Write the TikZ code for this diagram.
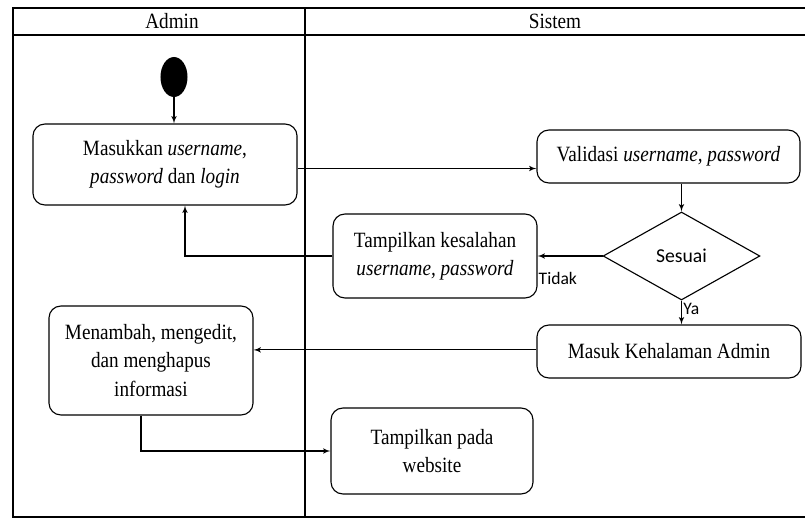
\documentclass[tikz,border=0pt]{standalone}
\usepackage{fontspec}
\setmainfont[FakeStretch=0.88]{Liberation Serif}
\newfontfamily\calibri{Carlito}
\usepackage{tikz}
\usetikzlibrary{shapes,shapes.geometric,arrows}
\tikzstyle{decision} = [diamond, draw, thick, inner sep=0pt,
minimum width=3.92cm, minimum height=2.2cm, font=\calibri\fontsize{14}{16}\selectfont]
\tikzstyle{activity} = [rectangle, draw, thick, align=center,
rounded corners=0.3cm, font=\fontsize{15.5}{20}\selectfont]
\tikzstyle{startnode} = [ellipse, fill=black, minimum width=0.675cm, minimum height=1cm, inner sep=0pt]
\tikzstyle{lane} = [draw, thick]
\tikzstyle{line} = [draw, thick, -latex']
\tikzstyle{guard} = [font=\calibri\fontsize{12.5}{14}\selectfont, inner sep=1pt]

\begin{document}
\begin{tikzpicture}[x=0.025cm, y=-0.025cm]
\useasboundingbox (0,0) rectangle (805,520);
% Swimlanes
\path [lane] (805,8) -- (13,8) -- (13,517) -- (805,517);
\path [lane] (13,35) -- (805,35);
\path [lane] (305,8) -- (305,517);
\node [font=\fontsize{15.5}{18}\selectfont] (admin) at (172,21) {Admin};
\node [font=\fontsize{15.5}{18}\selectfont] (sistem) at (555,21) {Sistem};
% Place nodes
\node [startnode] (start) at (174,77) {};
\node [activity, minimum width=6.6cm, minimum height=2.025cm] (login) at (165,164.5)
  {Masukkan \textit{username},\\ \textit{password} dan \textit{login}};
\node [activity, minimum width=6.575cm, minimum height=1.325cm] (validasi) at (668.5,156.5)
  {Validasi \textit{username, password}};
\node [decision] (sesuai) at (681.5,256) {Sesuai};
\node [activity, minimum width=5.1cm, minimum height=2.1cm] (salah) at (435,256)
  {Tampilkan kesalahan\\ \textit{username, password}};
\node [activity, minimum width=6.6cm, minimum height=1.325cm] (masuk) at (669,351.5)
  {Masuk Kehalaman Admin};
\node [activity, minimum width=5.1cm, minimum height=2.725cm] (kelola) at (151,360.5)
  {Menambah, mengedit,\\ dan menghapus\\ informasi};
\node [activity, minimum width=5.05cm, minimum height=2.15cm] (website) at (432,451)
  {Tampilkan pada\\ website};
% Draw edges
\path [line] (start) -- (start |- login.north);
\path [line] ([yshift=-0.1cm]login.east) -- ([yshift=-0.1cm]login.east -| validasi.west);
\path [line] (sesuai.north |- validasi.south) -- (sesuai);
\path [line] (sesuai) -- node [guard, below, near end, xshift=0.1cm, yshift=-0.35cm] {Tidak} (salah);
\path [line] (salah) -| ([xshift=0.5cm]login.south);
\path [line] (sesuai) -- node [guard, right, near start, yshift=-0.05cm] {Ya} (sesuai.south |- masuk.north);
\path [line] ([yshift=0.04cm]masuk.west) -- ([yshift=0.04cm]masuk.west -| kelola.east);
\path [line] ([xshift=-0.25cm]kelola.south) |- (website);
\end{tikzpicture}
\end{document}
